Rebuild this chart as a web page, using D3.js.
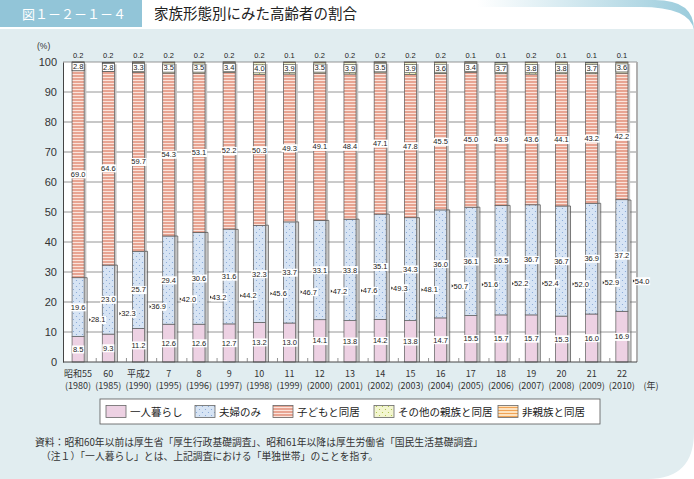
<!DOCTYPE html>
<html><head><meta charset="utf-8">
<script src="https://cdn.jsdelivr.net/npm/d3@7"></script>
<style>body{margin:0;background:#fff}svg{display:block}</style>
</head><body><svg id="c" width="694" height="479"></svg>
<script>
const yearsJa = ["昭和55","60","平成2","7","8","9","10","11","12","13","14","15","16","17","18","19","20","21","22"];
const yearsAd = ["(1980)","(1985)","(1990)","(1995)","(1996)","(1997)","(1998)","(1999)","(2000)","(2001)","(2002)","(2003)","(2004)","(2005)","(2006)","(2007)","(2008)","(2009)","(2010)"];
const single    = [8.5, 9.3, 11.2, 12.6, 12.6, 12.7, 13.2, 13.0, 14.1, 13.8, 14.2, 13.8, 14.7, 15.5, 15.7, 15.7, 15.3, 16.0, 16.9];
const couple    = [19.6, 23.0, 25.7, 29.4, 30.6, 31.6, 32.3, 33.7, 33.1, 33.8, 35.1, 34.3, 36.0, 36.1, 36.5, 36.7, 36.7, 36.9, 37.2];
const totals    = [28.1, 32.3, 36.9, 42.0, 43.2, 44.2, 45.6, 46.7, 47.2, 47.6, 49.3, 48.1, 50.7, 51.6, 52.2, 52.4, 52.0, 52.9, 54.0];
const withChild = [69.0, 64.6, 59.7, 54.3, 53.1, 52.2, 50.3, 49.3, 49.1, 48.4, 47.1, 47.8, 45.5, 45.0, 43.9, 43.6, 44.1, 43.2, 42.2];
const otherKin  = [2.8, 2.8, 3.3, 3.5, 3.5, 3.4, 4.0, 3.9, 3.5, 3.9, 3.5, 3.9, 3.6, 3.4, 3.7, 3.8, 3.8, 3.7, 3.6];
const nonKin    = [0.2, 0.2, 0.2, 0.2, 0.2, 0.2, 0.2, 0.1, 0.2, 0.2, 0.2, 0.2, 0.2, 0.1, 0.1, 0.2, 0.1, 0.1, 0.1];
const seriesNames = ["一人暮らし","夫婦のみ","子どもと同居","その他の親族と同居","非親族と同居"];
const yTicks = [0,10,20,30,40,50,60,70,80,90,100];

const svg = d3.select("#c");
const W = 694, H = 479;
const NUMF = "'Liberation Sans Narrow','Arial Narrow','Liberation Sans',Arial,sans-serif";
const JPF = "'Noto Sans CJK JP','Noto Sans',sans-serif";

// ---------- defs ----------
const defs = svg.append("defs");
function stripes(id, bg, line, h){
  const p = defs.append("pattern").attr("id",id).attr("patternUnits","userSpaceOnUse").attr("width",6).attr("height",h);
  p.append("rect").attr("width",6).attr("height",h).attr("fill",bg);
  p.append("rect").attr("y",h-1).attr("width",6).attr("height",1).attr("fill",line);
}
function dots(id, bg, dot){
  const p = defs.append("pattern").attr("id",id).attr("patternUnits","userSpaceOnUse").attr("width",6).attr("height",6);
  p.append("rect").attr("width",6).attr("height",6).attr("fill",bg);
  p.append("circle").attr("cx",1.5).attr("cy",1.5).attr("r",0.6).attr("fill",dot);
  p.append("circle").attr("cx",4.5).attr("cy",4.5).attr("r",0.6).attr("fill",dot);
}
dots("pBlue","#d7e4f4","#7fa3d4");
stripes("pSalmon","#e8a492","#fbe4dc",3);
dots("pYellow","#f3f6d0","#a6bf3c");
stripes("pOrange","#fde2bf","#f0a356",3);
const fills = ["#edd1e3","url(#pBlue)","url(#pSalmon)","url(#pYellow)","url(#pOrange)"];

const hg = defs.append("linearGradient").attr("id","hg").attr("x1","0").attr("x2","1").attr("y1","0").attr("y2","0");
hg.append("stop").attr("offset","0").attr("stop-color","#ffffff");
hg.append("stop").attr("offset","0.45").attr("stop-color","#ffffff");
hg.append("stop").attr("offset","1").attr("stop-color","#8fc6d8");

// ---------- background ----------
svg.append("rect").attr("width",W).attr("height",H).attr("fill","#fff");
svg.append("path").attr("d","M300,0 H655 Q694,0 694,30 V29 H300 Z").attr("fill","url(#hg)").attr("opacity",0.9);
svg.append("path").attr("d","M300,7 H640 Q690,7 694,30 V29 H300 Z").attr("fill","#fff");
svg.append("path").attr("d",`M0,29 H${W} V432 Q${W},${H} 648,${H} H0 Z`).attr("fill","#e1edf0");
// title box
svg.append("rect").attr("x",0).attr("y",0).attr("width",142).attr("height",27).attr("fill","#92c5d8");
svg.append("text").attr("x",22).attr("y",19).attr("fill","#fff").attr("font-family",JPF).attr("font-size",13).text("図１－２－１－４");
svg.append("text").attr("x",154).attr("y",19).attr("fill","#222").attr("font-family",JPF).attr("font-size",14.5).text("家族形態別にみた高齢者の割合");

// ---------- scales ----------
const x = d3.scaleBand().domain(d3.range(yearsJa.length)).range([63,637]).paddingInner(0.6).paddingOuter(0.3);
const y = d3.scaleLinear().domain([0,100]).range([362,62]);

svg.append("rect").attr("x",63).attr("y",y(100)).attr("width",637-63).attr("height",y(0)-y(100)).attr("fill","#fff");
svg.append("g").selectAll("line").data(yTicks.filter(d=>d>0)).join("line")
  .attr("x1",63).attr("x2",637).attr("y1",d=>y(d)).attr("y2",d=>y(d))
  .attr("stroke",d=>(d===20||d===70||d===80)?"#b4b4b4":"#8a8a8a").attr("stroke-width",d=>(d===20||d===70||d===80)?1.6:0.9);
svg.append("line").attr("x1",637).attr("x2",637).attr("y1",y(100)).attr("y2",y(0)).attr("stroke","#b0b0b0").attr("stroke-width",2);

const yAxis = svg.append("g").attr("transform","translate(63,0)")
  .call(d3.axisLeft(y).tickValues(yTicks).tickSize(0).tickPadding(6));
yAxis.select(".domain").attr("stroke","#444");
yAxis.selectAll("text").attr("font-family","'Liberation Sans',Arial,sans-serif").attr("font-size",11).attr("fill","#333");
svg.append("text").attr("x",37).attr("y",49).attr("font-family","'Liberation Sans',Arial,sans-serif").attr("font-size",8.5).attr("fill","#333").text("(%)");

// ---------- stacks ----------
const rows = yearsJa.map((d,i)=>({i, s0:single[i], s1:couple[i], s2:withChild[i], s3:otherKin[i], s4:nonKin[i]}));
const keys = ["s0","s1","s2","s3","s4"];
const stack = d3.stack().keys(keys)(rows);
const stackTop = d => d.s0+d.s1+d.s2+d.s3+d.s4;

svg.append("g").selectAll("rect").data(rows).join("rect")
  .attr("x",d=>x(d.i)+x.bandwidth()).attr("width",2.2)
  .attr("y",d=>y(stackTop(d))+2).attr("height",d=>y(0)-y(stackTop(d))-2)
  .attr("fill","#c4c4c4");

svg.append("g").selectAll("path").data(rows).join("path")
  .attr("d",d=>{const xr=x(d.i)+x.bandwidth(); return `M${xr},${y(totals[d.i])}H${xr+3}V${y(0)}`;})
  .attr("fill","none").attr("stroke","#555").attr("stroke-width",0.8);

stack.forEach((layer,k)=>{
  svg.append("g").selectAll("rect").data(layer).join("rect")
    .attr("x",d=>x(d.data.i)).attr("width",x.bandwidth())
    .attr("y",d=>y(d[1])).attr("height",d=>Math.max(0.6,y(d[0])-y(d[1])))
    .attr("fill",fills[k]).attr("stroke","#5a5a5a").attr("stroke-width",0.7);
});

// x axis
svg.append("line").attr("x1",63).attr("x2",637).attr("y1",y(0)).attr("y2",y(0)).attr("stroke","#444");
svg.append("g").selectAll("line").data(d3.range(1,yearsJa.length)).join("line")
  .attr("x1",d=>x(d)-x.step()*0.2).attr("x2",d=>x(d)-x.step()*0.2)
  .attr("y1",y(0)).attr("y2",y(0)-4).attr("stroke","#777").attr("stroke-width",0.8);

const xl = svg.append("g").attr("font-family",JPF).attr("font-size",9).attr("fill","#333").attr("text-anchor","middle");
xl.selectAll("text.a").data(yearsJa).join("text").attr("class","a")
  .attr("x",(d,i)=>x(i)+x.bandwidth()/2).attr("y",377).text(d=>d);
xl.selectAll("text.b").data(yearsAd).join("text").attr("class","b")
  .attr("x",(d,i)=>x(i)+x.bandwidth()/2).attr("y",389).text(d=>d);
xl.append("text").attr("x",651).attr("y",389).text("(年)");

// ---------- value labels ----------
const lab = svg.append("g");
function label(cx, cy, txt, opts={}){
  const g = lab.append("g");
  const t = g.append("text").attr("x",cx).attr("y",cy).attr("dy","0.35em")
    .attr("text-anchor",opts.anchor||"middle").attr("font-family",NUMF).attr("font-size",7.5)
    .attr("fill","#222").text(txt);
  if(opts.box!==false){
    const bb = t.node().getBBox();
    g.insert("rect","text").attr("x",bb.x-0.8).attr("y",bb.y+0.6).attr("width",bb.width+1.6).attr("height",bb.height-1)
      .attr("fill","#fff").attr("stroke",opts.stroke||"none").attr("stroke-width",0.6);
  }
  return g;
}
const fmt = d3.format(".1f");
rows.forEach(d=>{
  const cx = x(d.i)+x.bandwidth()/2;
  label(cx, y(d.s0/2), fmt(d.s0));
  label(cx, y(d.s0+d.s1/2), fmt(d.s1));
  label(cx, y(d.s0+d.s1+d.s2/2), fmt(d.s2));
  label(cx, y(d.s0+d.s1+d.s2+d.s3/2), fmt(d.s3), {stroke:"#444"});
  label(cx, y(100)-7, fmt(d.s4), {box:false});
  const xr = x(d.i)+x.bandwidth()+5;
  const ty = y(totals[d.i]/2);
  const g = label(xr+1.8, ty, fmt(totals[d.i]), {anchor:"start"});
  g.append("path").attr("d",`M${xr},${ty-1.6}L${xr+1.8},${ty}L${xr},${ty+1.6}Z`).attr("fill","#333");
});

// ---------- legend ----------
const lg = svg.append("g");
lg.append("rect").attr("x",100).attr("y",399).attr("width",500).attr("height",25).attr("fill","#fff").attr("stroke","#555").attr("stroke-width",0.8);
const legX = [106,195,273,374,498];
seriesNames.forEach((n,k)=>{
  lg.append("rect").attr("x",legX[k]).attr("y",405.5).attr("width",20).attr("height",12)
    .attr("fill",fills[k]).attr("stroke","#666").attr("stroke-width",0.8);
  lg.append("text").attr("x",legX[k]+24).attr("y",415.5).attr("font-family",JPF).attr("font-size",10.5).attr("fill","#222").text(n);
});

// ---------- notes ----------
const nt = svg.append("g").attr("font-family",JPF).attr("font-size",9.8).attr("fill","#333");
nt.append("text").attr("x",35).attr("y",446).text("資料：昭和60年以前は厚生省「厚生行政基礎調査」、昭和61年以降は厚生労働省「国民生活基礎調査」");
nt.append("text").attr("x",41).attr("y",460).text("（注１）「一人暮らし」とは、上記調査における「単独世帯」のことを指す。");
</script></body></html>
